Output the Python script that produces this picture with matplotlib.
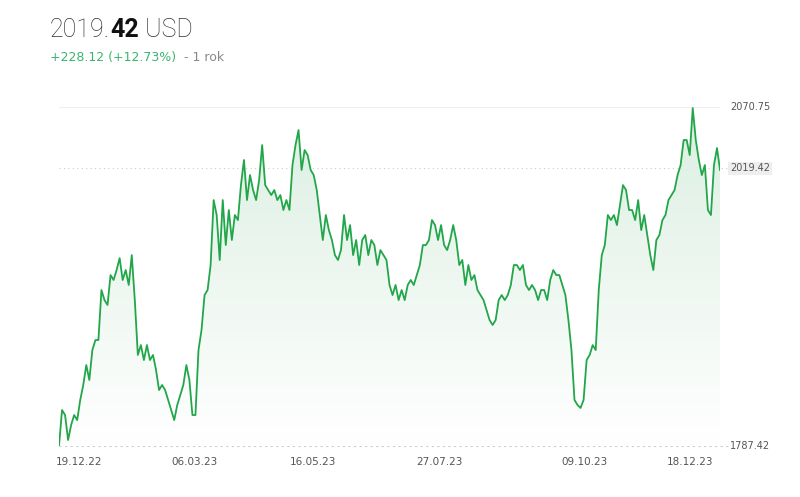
import numpy as np
import matplotlib.pyplot as plt
from matplotlib.patches import Polygon
from matplotlib.colors import LinearSegmentedColormap

prices = [1787.4, 1817.5, 1813.3, 1792.4, 1805.0, 1813.3, 1809.1, 1825.9, 1838.4, 1855.1,
          1842.6, 1867.6, 1876.0, 1876.0, 1917.8, 1909.4, 1905.3, 1930.3, 1926.2, 1934.5,
          1944.5, 1926.2, 1934.5, 1922.0, 1947.0, 1909.4, 1863.5, 1871.8, 1859.3, 1871.8,
          1859.3, 1863.5, 1851.0, 1834.2, 1838.4, 1834.2, 1825.9, 1817.5, 1809.1, 1821.7,
          1830.0, 1838.4, 1855.1, 1842.6, 1813.3, 1813.3, 1867.6, 1884.4, 1913.6, 1917.8,
          1938.7, 1993.0, 1980.5, 1942.9, 1993.0, 1955.4, 1984.7, 1959.6, 1980.5, 1976.3,
          2005.5, 2026.5, 1993.0, 2013.9, 2001.4, 1993.0, 2009.7, 2039.0, 2005.5, 2001.4,
          1997.2, 2001.4, 1993.0, 1997.2, 1984.7, 1993.0, 1984.7, 2022.3, 2039.0, 2051.5,
          2018.1, 2034.8, 2030.6, 2018.1, 2013.9, 2001.4, 1980.5, 1959.6, 1980.5, 1967.9,
          1959.6, 1947.0, 1942.9, 1951.2, 1980.5, 1959.6, 1972.1, 1947.0, 1959.6, 1938.7,
          1959.6, 1963.8, 1947.0, 1959.6, 1955.4, 1938.7, 1951.2, 1947.0, 1942.9, 1922.0,
          1913.6, 1922.0, 1909.4, 1917.8, 1909.4, 1922.0, 1926.2, 1922.0, 1930.3, 1938.7,
          1955.4, 1955.4, 1959.6, 1976.3, 1972.1, 1959.6, 1972.1, 1955.4, 1951.2, 1959.6,
          1972.1, 1959.6, 1938.7, 1942.9, 1922.0, 1938.7, 1926.2, 1930.3, 1917.8, 1913.6,
          1909.4, 1901.1, 1892.7, 1888.6, 1892.7, 1909.4, 1913.6, 1909.4, 1913.6, 1922.0,
          1938.7, 1938.7, 1934.5, 1938.7, 1922.0, 1917.8, 1922.0, 1917.8, 1909.4, 1917.8,
          1917.8, 1909.4, 1926.2, 1934.5, 1930.3, 1930.3, 1922.0, 1913.6, 1892.7, 1867.6,
          1825.9, 1821.7, 1819.2, 1825.9, 1859.3, 1863.5, 1871.8, 1867.6, 1917.8, 1947.0,
          1955.4, 1980.5, 1976.3, 1980.5, 1972.1, 1988.9, 2005.5, 2001.4, 1984.7, 1984.7,
          1976.3, 1993.0, 1967.9, 1980.5, 1963.8, 1947.0, 1934.5, 1959.6, 1963.8, 1976.3,
          1980.5, 1993.0, 1997.2, 2001.4, 2013.9, 2022.3, 2043.2, 2043.2, 2030.6, 2069.9,
          2043.2, 2026.5, 2013.9, 2022.3, 1984.7, 1980.5, 2022.3, 2036.5, 2018.1]
tick_labels = ['19.12.22', '06.03.23', '16.05.23', '27.07.23', '09.10.23', '18.12.23']
tick_frac = [0.03, 0.205, 0.384, 0.576, 0.795, 0.954]

y_min, y_max, last = 1787.42, 2070.75, 2019.42
line_col = '#22a64a'

fig = plt.figure(figsize=(8, 4.97), dpi=100)
ax = fig.add_axes([0.07375, 0.1026, 0.8263, 0.682])
x = np.arange(len(prices))
n = len(prices) - 1

# gradient fill under the line
grad = np.linspace(0, 1, 256).reshape(-1, 1)
cmap = LinearSegmentedColormap.from_list('g', ['#ffffff', '#dcefe2'])
im = ax.imshow(grad, extent=[0, n, y_min, y_max], origin='lower', aspect='auto',
               cmap=cmap, zorder=1)
poly = Polygon(np.column_stack([np.r_[0, x, n], np.r_[y_min, prices, y_min]]),
               closed=True, facecolor='none', edgecolor='none')
ax.add_patch(poly)
im.set_clip_path(poly)

ax.plot(x, prices, color=line_col, lw=1.3, zorder=3)

ax.axhline(y_max, color='#eeeeee', lw=0.8, zorder=0)
ax.plot([0, n + 3], [last, last], color='#cccccc', lw=0.8, ls=(0, (1, 3)), zorder=0, clip_on=False)
ax.plot([0, n + 3], [y_min, y_min], color='#cccccc', lw=0.8, ls=(0, (2, 3)), zorder=0, clip_on=False)

ax.set_xlim(0, n)
ax.set_ylim(y_min, y_max)
for s in ax.spines.values():
    s.set_visible(False)
ax.set_yticks([])
ax.set_xticks([f * n for f in tick_frac])
ax.set_xticklabels(tick_labels, fontsize=7.5, color='#555555')
ax.tick_params(axis='x', length=0, pad=8)

for v, box in [(y_max, False), (last, True), (y_min, False)]:
    kw = dict(boxstyle='square,pad=0.2', fc='#eeeeee', ec='none') if box else None
    ax.text(1.015, (v - y_min) / (y_max - y_min), f'{v:.2f}', transform=ax.transAxes,
            fontsize=7, color='#555555', va='center', ha='left', bbox=kw)

# header, pieces chained one after another
t1 = fig.text(0.0625, 0.925, '2019.', fontsize=18, color='#333333', va='baseline',
              family='Roboto', weight='light')
t2 = plt.annotate('42', xy=(1, 0), xycoords=t1, fontsize=18, color='#111111',
                  weight='bold', family='Roboto', va='bottom')
plt.annotate(' USD', xy=(1, 0), xycoords=t2, fontsize=18, color='#333333',
             family='Roboto', weight='light', va='bottom')
s1 = fig.text(0.0625, 0.878, '+228.12 (+12.73%)', fontsize=9, color='#3cb46e', va='baseline')
plt.annotate('  - 1 rok', xy=(1, 0), xycoords=s1, fontsize=9, color='#888888', va='bottom')

fig.savefig('out.png', dpi=100)
